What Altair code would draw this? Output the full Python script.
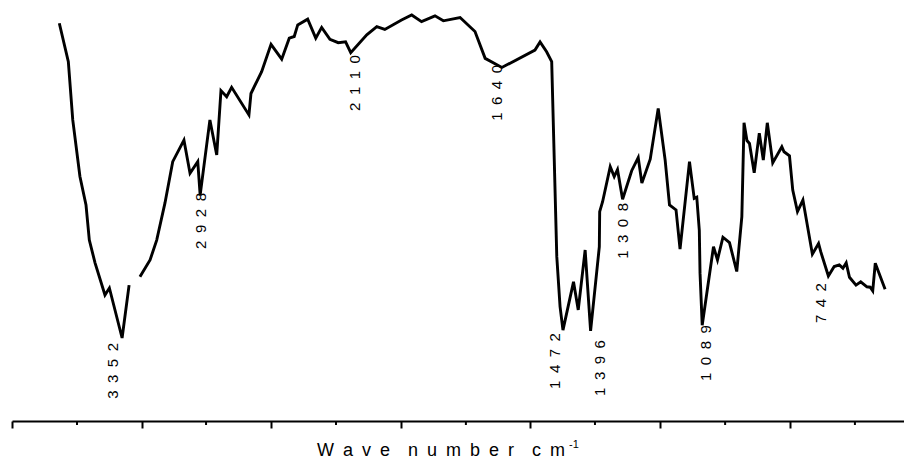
import altair as alt
import pandas as pd

# ---- FTIR spectrum (wavenumber cm-1, transmittance %) ----
# first trace piece (before the small gap in the curve)
seg1_wn = [3693, 3644, 3620, 3581, 3548, 3530, 3499, 3445, 3421, 3352, 3314]
seg1_t = [96.3, 87.0, 72.9, 59.2, 52.3, 43.8, 38.3, 30.5, 32.2, 20.1, 32.9]

# second trace piece
seg2_wn = [3255, 3200, 3164, 3119, 3077, 3016, 2983, 2941, 2928, 2875,
           2838, 2815, 2784, 2757, 2663, 2652, 2594, 2543, 2485, 2444,
           2417, 2398, 2344, 2300, 2268, 2223, 2178, 2138, 2110, 2023,
           1984, 1962, 1916, 1888, 1861, 1824, 1801, 1755, 1714, 1686,
           1640, 1549, 1535, 1517, 1503, 1489, 1480, 1472, 1443, 1430,
           1411, 1396, 1372, 1371, 1363, 1342, 1331, 1322, 1308, 1283,
           1265, 1255, 1232, 1210, 1191, 1179, 1161, 1150, 1124, 1111,
           1104, 1097, 1095, 1089, 1058, 1047, 1032, 1014, 994, 980,
           974, 966, 959, 946, 932, 921, 910, 895, 870, 864,
           849, 840, 827, 812, 786, 769, 763, 742, 726, 712,
           702, 693, 684, 666, 653, 636, 627, 620, 613, 586]
seg2_t = [34.9, 39.0, 43.8, 52.8, 62.8, 68.0, 60.0, 62.8, 54.7, 72.9,
          64.4, 80.0, 78.5, 80.8, 74.1, 79.3, 84.6, 91.2, 87.6, 92.7,
          93.1, 95.9, 97.3, 92.7, 95.3, 92.4, 91.6, 91.8, 89.2, 93.5,
          95.5, 94.8, 97.1, 98.3, 96.7, 98.1, 96.9, 97.7, 94.3, 87.8,
          85.6, 89.8, 91.8, 89.4, 87.0, 39.8, 27.7, 22.0, 33.7, 26.9,
          41.4, 21.8, 42.2, 50.7, 53.1, 61.6, 59.2, 60.9, 53.7, 60.6,
          63.8, 57.6, 63.4, 75.7, 63.2, 52.3, 51.1, 41.6, 62.8, 53.9,
          54.2, 46.2, 35.8, 23.2, 42.2, 39.0, 44.5, 43.2, 36.2, 49.5,
          72.2, 67.9, 67.2, 60.1, 69.7, 63.2, 72.2, 62.5, 66.4, 65.2,
          64.2, 55.9, 50.7, 53.5, 40.4, 43.0, 41.0, 35.1, 37.4, 37.8,
          37.0, 38.3, 34.8, 32.9, 33.7, 32.5, 32.4, 31.5, 38.2, 31.9]

# peak annotations: text, and where each label sits (wavenumber, transmittance at label top)
peak_labels = ["3352", "2928", "2110", "1640", "1472", "1396", "1308", "1089", "742"]
label_wn = [3404, 2921, 2087, 1653, 1494, 1371, 1308, 1078, 761]
label_t = [18.9, 55.2, 88.6, 86.2, 21.3, 19.6, 52.8, 23.2, 33.4]

# unlabeled x-axis tick marks (wavenumber positions)
major_ticks_wn = [3950, 3244, 2543, 1917, 1563, 1205, 847]
minor_ticks_wn = [3597, 2896, 2190, 1739, 1384, 1026, 669]

x_title = "W\u2002a\u2002v\u2002e\u2002\u2002n\u2002u\u2002m\u2002b\u2002e\u2002r\u2002\u2002c\u2002m"
x_title_sup = "-1"

# ---- build tables ----
spec = pd.DataFrame({
    "wn": seg1_wn + seg2_wn,
    "T": seg1_t + seg2_t,
    "seg": ["a"] * len(seg1_wn) + ["b"] * len(seg2_wn),
})
spec["i"] = range(len(spec))

labels = pd.DataFrame({
    "wn": label_wn,
    "T": label_t,
    "text": ["\u2002".join(s) for s in peak_labels],
})
minor = pd.DataFrame({"wn": minor_ticks_wn})

W, H = 892, 413
FONT = "Liberation Sans, Arial, sans-serif"

# spectrometer-style axis: 2x expansion below 2000 cm-1
xscale = alt.Scale(domain=[3950, 2000, 534], range=[0, 359, W], zero=False, nice=False)
xaxis = alt.Axis(values=major_ticks_wn, labels=False, title=None, grid=False,
                 tickSize=7, tickWidth=2, tickColor="black",
                 domainColor="black", domainWidth=2)
X = alt.X("wn:Q", scale=xscale, axis=xaxis)
Y = alt.Y("T:Q", scale=alt.Scale(domain=[0, 100], zero=False, nice=False), axis=None)

line = alt.Chart(spec).mark_line(color="black", strokeWidth=2.9).encode(
    x=X, y=Y, detail="seg:N", order="i:Q"
)

text = alt.Chart(labels).mark_text(
    angle=270, align="right", baseline="middle", font=FONT, fontSize=15, color="black"
).encode(x=X, y=Y, text="text:N")

minor_ticks = alt.Chart(minor).mark_rule(color="black", strokeWidth=2).encode(
    x=X, y=alt.value(H), y2=alt.value(H + 4)
)

title_df = pd.DataFrame({"t": [x_title]})
title = alt.Chart(title_df).mark_text(
    align="left", baseline="alphabetic", font=FONT, fontSize=18, color="black"
).encode(x=alt.value(305), y=alt.value(H + 35), text="t:N")

sup_df = pd.DataFrame({"t": [x_title_sup]})
sup = alt.Chart(sup_df).mark_text(
    align="left", baseline="alphabetic", font=FONT, fontSize=11, color="black"
).encode(x=alt.value(557), y=alt.value(H + 27), text="t:N")

chart = alt.layer(line, text, minor_ticks, title, sup).properties(
    width=W, height=H,
    autosize=alt.AutoSizeParams(type="none"),
    padding={"left": 4, "top": 0, "right": 0, "bottom": 39},
    background="white",
).configure_view(stroke=None)

chart.save("out.html", embed_options={"renderer": "svg", "actions": False})
